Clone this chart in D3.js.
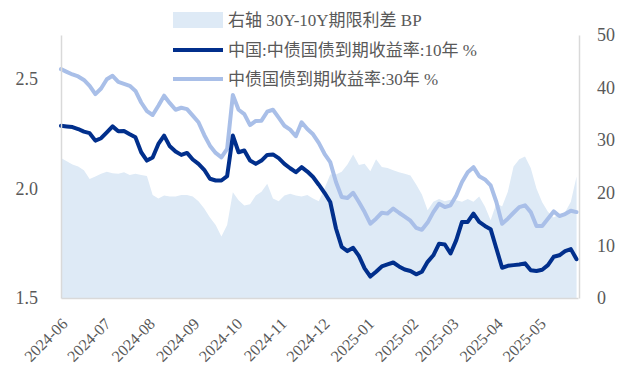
<!DOCTYPE html>
<html>
<head>
<meta charset="utf-8">
<script src="https://cdn.jsdelivr.net/npm/d3@7"></script>
<style>
  body { margin: 0; background: #fff; }
  svg text { font-family: 'Liberation Serif', 'Noto Sans CJK SC', serif; fill: #595959; }
</style>
</head>
<body>
<div id="chart"><svg></svg></div>
<script>
// yields in %, sampled every 4 calendar days starting 2024-06-03
const tenY = [
  2.286, 2.283, 2.280, 2.271, 2.259, 2.252, 2.218, 2.229, 2.256, 2.283,
  2.261, 2.262, 2.247, 2.233, 2.165, 2.127, 2.141, 2.203, 2.241, 2.192,
  2.168, 2.153, 2.162, 2.132, 2.112, 2.085, 2.044, 2.036, 2.036, 2.056,
  2.241, 2.165, 2.173, 2.127, 2.112, 2.127, 2.153, 2.155, 2.138, 2.112,
  2.092, 2.074, 2.097, 2.077, 2.052, 2.017, 1.980, 1.938, 1.817, 1.733,
  1.714, 1.729, 1.692, 1.635, 1.598, 1.620, 1.644, 1.653, 1.662, 1.644,
  1.630, 1.623, 1.608, 1.620, 1.665, 1.695, 1.748, 1.744, 1.703, 1.764,
  1.847, 1.847, 1.885, 1.847, 1.829, 1.814, 1.726, 1.638, 1.647, 1.650,
  1.653, 1.658, 1.627, 1.623, 1.629, 1.650, 1.688, 1.695, 1.714, 1.723,
  1.677
]
const thirtyY = [
  2.544, 2.532, 2.520, 2.511, 2.495, 2.468, 2.430, 2.456, 2.498, 2.514,
  2.486, 2.477, 2.468, 2.445, 2.392, 2.353, 2.335, 2.377, 2.423, 2.389,
  2.359, 2.368, 2.362, 2.332, 2.302, 2.244, 2.195, 2.162, 2.142, 2.180,
  2.426, 2.359, 2.339, 2.289, 2.308, 2.309, 2.350, 2.359, 2.323, 2.286,
  2.268, 2.238, 2.302, 2.271, 2.247, 2.208, 2.158, 2.120, 2.029, 1.961,
  1.956, 1.980, 1.938, 1.892, 1.839, 1.862, 1.889, 1.885, 1.908, 1.889,
  1.871, 1.853, 1.820, 1.811, 1.844, 1.892, 1.930, 1.915, 1.923, 1.968,
  2.029, 2.074, 2.097, 2.056, 2.041, 2.014, 1.938, 1.839, 1.862, 1.889,
  1.915, 1.923, 1.892, 1.829, 1.829, 1.862, 1.895, 1.874, 1.883, 1.898,
  1.892
]
// 30Y-10Y term spread in BP (right axis)
const spread = [
  26.6, 26.0, 25.4, 25.0, 24.3, 22.6, 23.1, 23.6, 24.0, 23.7,
  23.6, 23.9, 23.4, 23.6, 23.4, 23.2, 19.6, 18.9, 19.5, 19.3,
  19.3, 19.6, 19.6, 19.3, 18.4, 17.0, 15.3, 13.9, 11.7, 13.9,
  20.1, 18.6, 17.6, 17.8, 19.5, 20.2, 21.7, 18.9, 18.4, 19.5,
  19.8, 19.5, 19.3, 19.6, 18.9, 18.4, 20.8, 23.5, 23.5, 24.0,
  25.4, 27.3, 25.3, 25.5, 24.1, 26.4, 24.9, 24.7, 24.3, 23.9,
  23.6, 23.3, 21.6, 19.7, 16.7, 18.3, 18.8, 18.4, 18.7, 18.6,
  18.3, 18.8, 18.3, 19.3, 17.4, 14.8, 18.0, 17.4, 20.2, 25.0,
  26.4, 26.9, 24.7, 20.8, 18.2, 16.4, 15.3, 15.9, 16.3, 18.3,
  23.1
]
const monthLabels = ['2024-06', '2024-07', '2024-08', '2024-09', '2024-10', '2024-11',
  '2024-12', '2025-01', '2025-02', '2025-03', '2025-04', '2025-05']
const leftTicks = [1.5, 2.0, 2.5]
const rightTicks = [0, 10, 20, 30, 40, 50]
const legendLabels = ['右轴 30Y-10Y期限利差 BP', '中国:中债国债到期收益率:10年 %', '中债国债到期收益率:30年 %']

const startDay = new Date(2024, 5, 3)
const endDay = new Date(2025, 4, 30)
const dates = tenY.map((v, i) => d3.timeDay.offset(startDay, i * 4))

const width = 627
const height = 378
const plot = { left: 61, right: 578, top: 35, bottom: 298 }
const colors = { area: '#deeaf6', dark: '#012f8c', light: '#a9bfe8', axis: '#d9d9d9' }

const svg = d3.select('#chart').select('svg')
  .attr('width', width)
  .attr('height', height)

const x = d3.scaleTime().domain([startDay, endDay]).range([plot.left, plot.right])
const yLeft = d3.scaleLinear().domain([1.5, 2.7]).range([plot.bottom, plot.top])
const yRight = d3.scaleLinear().domain([0, 50]).range([plot.bottom, plot.top])

/**
 * Draws the spread area on the right axis.
 */
function drawArea () {
  const area = d3.area()
    .x((d, i) => x(dates[i]))
    .y0(yRight(0))
    .y1(d => yRight(d))
  svg.append('path')
    .datum(spread)
    .attr('d', area)
    .attr('fill', colors.area)
}

/**
 * Draws one yield line on the left axis.
 */
function drawLine (values, color) {
  const line = d3.line()
    .x((d, i) => x(dates[i]))
    .y(d => yLeft(d))
  svg.append('path')
    .datum(values)
    .attr('d', line)
    .attr('fill', 'none')
    .attr('stroke', color)
    .attr('stroke-width', 4)
    .attr('stroke-linejoin', 'round')
    .attr('stroke-linecap', 'round')
}

/**
 * Draws both y axes and the date axis.
 */
function drawAxes () {
  const left = svg.append('g')
    .attr('transform', `translate(${plot.left},0)`)
    .call(d3.axisLeft(yLeft).tickValues(leftTicks).tickFormat(d3.format('.1f')).tickSize(0).tickPadding(4))
  const right = svg.append('g')
    .attr('transform', `translate(${plot.right + 1},0)`)
    .call(d3.axisRight(yRight).tickValues(rightTicks).tickSize(0).tickPadding(18))
  const bottom = svg.append('g')
    .attr('transform', `translate(0,${plot.bottom})`)
    .call(d3.axisBottom(x).tickValues(monthLabels.map(d3.timeParse('%Y-%m'))).tickFormat(d3.timeFormat('%Y-%m')).tickSize(0))

  ;[left, right, bottom].forEach(g => {
    g.select('.domain').attr('stroke', colors.axis).attr('stroke-width', 1.5)
    g.selectAll('text').attr('fill', '#595959').style('font-size', '18px')
  })
  left.selectAll('text').attr('x', -23)

  bottom.selectAll('text')
    .style('font-size', '16px')
    .attr('text-anchor', 'end')
    .attr('dy', '0.35em')
    .attr('y', 0)
    .attr('transform', 'translate(6,23) rotate(-45)')
}

/**
 * Draws the legend above the lines.
 */
function drawLegend () {
  const g = svg.append('g').attr('id', 'legend')
  const rowY = [20, 50, 79]
  g.append('rect')
    .attr('x', 173).attr('y', 12)
    .attr('width', 50).attr('height', 16)
    .attr('fill', colors.area)
  g.append('line')
    .attr('x1', 173).attr('x2', 223).attr('y1', rowY[1]).attr('y2', rowY[1])
    .attr('stroke', colors.dark).attr('stroke-width', 4)
  g.append('line')
    .attr('x1', 173).attr('x2', 223).attr('y1', rowY[2]).attr('y2', rowY[2])
    .attr('stroke', colors.light).attr('stroke-width', 4)
  g.selectAll('text.legend')
    .data(legendLabels)
    .enter()
    .append('text')
    .attr('class', 'legend')
    .attr('x', 228)
    .attr('y', (d, i) => rowY[i])
    .attr('dy', '0.35em')
    .style('font-size', '17px')
    .text(d => d)
}

drawArea()
drawLine(thirtyY, colors.light)
drawLine(tenY, colors.dark)
drawAxes()
drawLegend()
</script>
</body>
</html>
